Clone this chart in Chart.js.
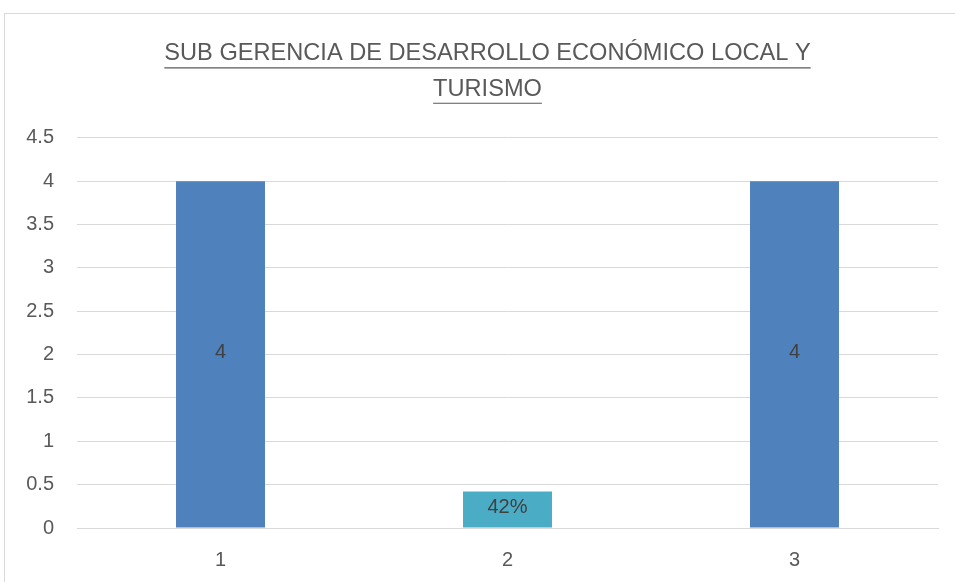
<!DOCTYPE html>
<html>
<head>
<meta charset="utf-8">
<script src="https://cdn.jsdelivr.net/npm/chart.js"></script>
<style>
    html, body { margin: 0; padding: 0; background: #fff; overflow: hidden; }
    #frame {
        position: absolute; left: 4px; top: 13px;
        width: 968px; height: 568px;
        border: 1px solid #d9d9d9; background: #fff;
    }
    canvas { display: block; }
</style>
</head>
<body>
<div id="frame"><canvas id="chart" width="968" height="568"></canvas></div>
<script>
// Chart data
const categories = ['1', '2', '3'];
const values = [4, 0.42, 4];
const valueLabels = ['4', '42%', '4'];
const barColors = ['#4F81BD', '#4BACC6', '#4F81BD'];
const titleLines = ['SUB GERENCIA DE DESARROLLO ECONÓMICO LOCAL Y', 'TURISMO'];

const FONT = "'Liberation Sans', Arial, sans-serif";
const TEXT = '#595959';

// centre the title on the whole frame and underline it (Excel style)
const titleUnderline = {
    id: 'titleUnderline',
    afterLayout(chart) {
        const tb = chart.titleBlock;
        if (!tb) return;
        tb.left = 0;
        tb.right = chart.width - 3;
        tb.width = tb.right - tb.left;
    },
    afterDraw(chart) {
        const tb = chart.titleBlock;
        if (!tb) return;
        const ctx = chart.ctx;
        const opts = chart.options.plugins.title;
        const size = opts.font.size;
        const lh = size * opts.font.lineHeight;
        const cx = tb.left + tb.width / 2;
        ctx.save();
        ctx.font = size + 'px ' + FONT;
        ctx.strokeStyle = TEXT;
        ctx.lineWidth = 1.2;
        titleLines.forEach((line, i) => {
            const w = ctx.measureText(line).width;
            const y = tb.top + opts.padding.top + lh / 2 + i * lh + size * 0.6;
            ctx.beginPath();
            ctx.moveTo(cx - w / 2, y);
            ctx.lineTo(cx + w / 2, y);
            ctx.stroke();
        });
        ctx.restore();
    }
};

// value labels in the middle of each bar
const barLabels = {
    id: 'barLabels',
    afterDatasetsDraw(chart) {
        const ctx = chart.ctx;
        const meta = chart.getDatasetMeta(0);
        ctx.save();
        ctx.font = '20px ' + FONT;
        ctx.fillStyle = '#404040';
        ctx.textAlign = 'center';
        ctx.textBaseline = 'middle';
        meta.data.forEach((bar, i) => {
            const y = (bar.y + bar.base) / 2 - 2;
            ctx.fillText(valueLabels[i], bar.x, y);
        });
        ctx.restore();
    }
};

new Chart(document.getElementById('chart'), {
    type: 'bar',
    data: {
        labels: categories,
        datasets: [{
            data: values,
            backgroundColor: barColors,
            borderWidth: 0,
            categoryPercentage: 1,
            barPercentage: 0.31
        }]
    },
    options: {
        responsive: false,
        animation: false,
        layout: { padding: { left: 0, right: 35, top: 0, bottom: 0 } },
        plugins: {
            legend: { display: false },
            tooltip: { enabled: false },
            title: {
                display: true,
                text: titleLines,
                color: TEXT,
                font: { family: FONT, size: 23.6, weight: 'normal', lineHeight: 1.5 },
                padding: { top: 22, bottom: 31 }
            }
        },
        scales: {
            x: {
                grid: { display: false, drawTicks: false },
                border: { color: '#d9d9d9', width: 1 },
                ticks: { color: TEXT, font: { family: FONT, size: 20 }, padding: 20 },
                afterFit(scale) { scale.height = 54; }
            },
            y: {
                min: 0,
                max: 4.5,
                grid: { color: '#d9d9d9', lineWidth: 1, drawTicks: false },
                border: { display: false },
                ticks: {
                    stepSize: 0.5,
                    color: TEXT,
                    font: { family: FONT, size: 20 },
                    padding: 23,
                    callback: v => String(v)
                },
                afterFit(scale) { scale.width = 72; }
            }
        }
    },
    plugins: [titleUnderline, barLabels]
});
</script>
</body>
</html>
